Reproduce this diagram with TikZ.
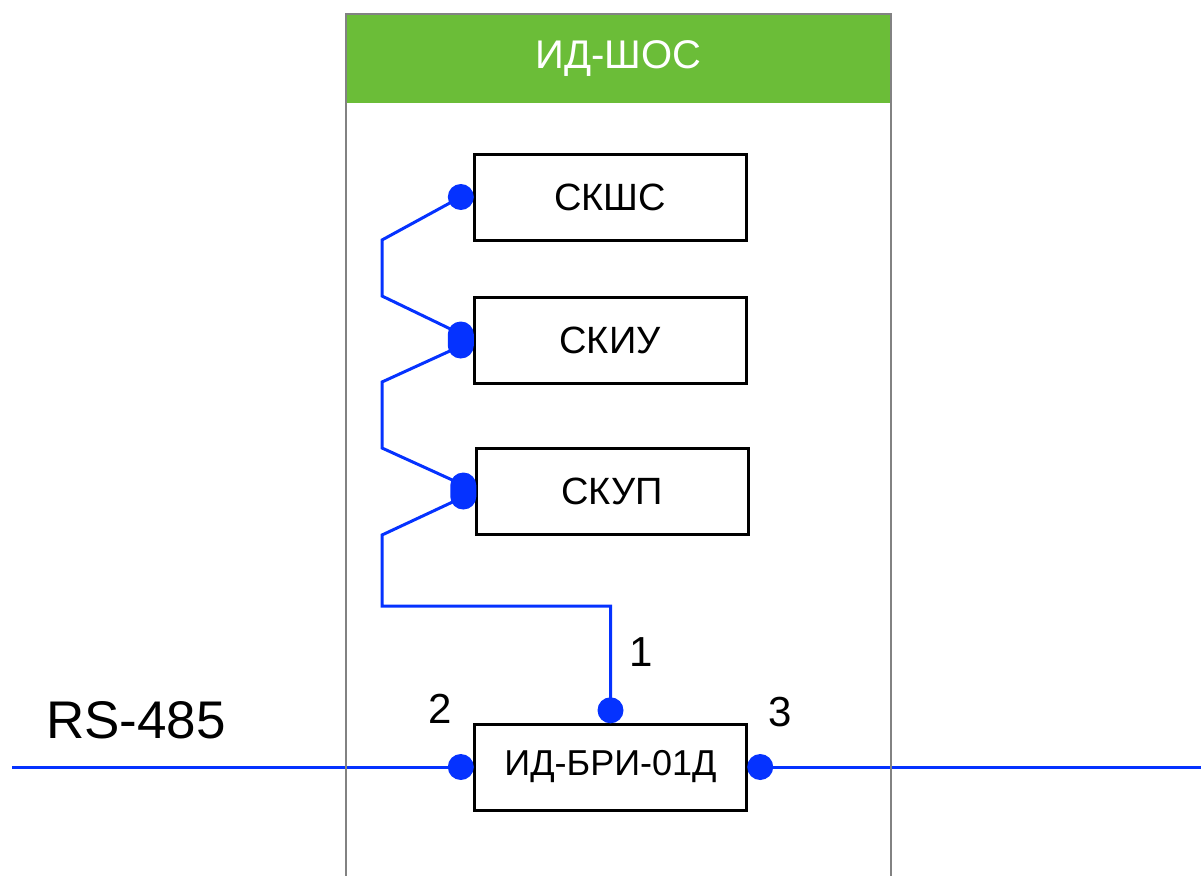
\documentclass[tikz,border=0pt]{standalone}
\usepackage{fontspec}
\setmainfont{Liberation Sans}
\usepackage{tikz}
\usetikzlibrary{positioning,backgrounds}
\definecolor{busblue}{RGB}{5,50,255}
\definecolor{hdrgreen}{RGB}{107,189,56}
\definecolor{framegray}{RGB}{130,130,130}

\begin{document}
\begin{tikzpicture}[
  x=1pt, y=-1pt,
  unit/.style={draw,line width=3pt,minimum width=272pt,minimum height=86pt,inner sep=0pt,font=\fontsize{38}{44}\selectfont},
  term/.style={circle,fill=busblue,inner sep=0pt,minimum size=26pt},
  termpair/.style={rectangle,rounded corners=12.9pt,fill=busblue,inner sep=0pt,minimum width=26pt,minimum height=37pt},
  wire/.style={draw=busblue,line width=3pt},
  num/.style={inner sep=0pt,font=\fontsize{42}{48}\selectfont}
]
\useasboundingbox (0,0) rectangle (1201,875);

% cabinet
\node[fill=hdrgreen,minimum width=545pt,minimum height=89pt,inner sep=0pt,text=white,font=\fontsize{40}{48}\selectfont] (hdr) at (618.5,58.5) {ИД-ШОС};
\draw[framegray,line width=2.5pt] (346,880) -- (346,14) -- (891,14) -- (891,880);

% units
\node[unit] (skshs) at (610,197) {СКШС};
\node[unit] (skiu) at (610,340) {СКИУ};
\node[unit] (skup) at (612,491) {СКУП};
\node[unit,font=\fontsize{36}{42}\selectfont] (bri) at (610.5,767) {ИД-БРИ-01Д};

% terminals
\node[term,left=-1.5pt of skshs.west] (pSkshs) {};
\node[termpair,left=-1.5pt of skiu.west] (pSkiu) {};
\node[termpair,left=-2pt of skup.west] (pSkup) {};
\node[term,above=-1pt of bri.north] (pBri1) {};
\node[term,left=-1pt of bri.west] (pBri2) {};
\node[term,right=-1pt of bri.east] (pBri3) {};

\node[num] (n1) at (641,652) {1};
\node[num] (n2) at (440,709) {2};
\node[num] (n3) at (780,712) {3};
\node[inner sep=0pt,font=\fontsize{53}{62}\selectfont] (rs) at (136,720) {RS-485};

\coordinate (busL) at (12,767);
\coordinate (busR) at (1201,767);

% wiring
\begin{scope}[on background layer]
\draw[wire] (pSkshs.center) -- (382,240) -- (382,296) -- ([yshift=6pt]pSkiu.center);
\draw[wire] ([yshift=-6pt]pSkiu.center) -- (382,382) -- (382,448) -- ([yshift=6pt]pSkup.center);
\draw[wire] ([yshift=-6pt]pSkup.center) -- (382,535) -- (382,606) -| (pBri1.center);
\draw[wire] (busL) -- (pBri2.center);
\draw[wire] (pBri3.center) -- (busR);
\end{scope}
\end{tikzpicture}
\end{document}
